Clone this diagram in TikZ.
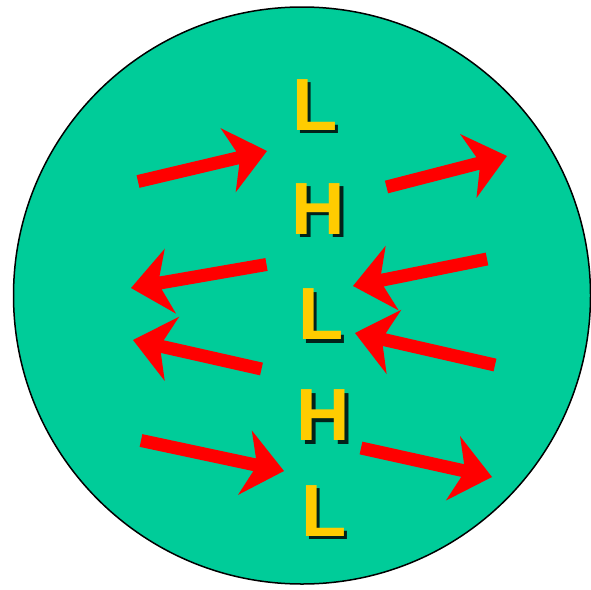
\documentclass[tikz,border=0pt]{standalone}
\usepackage{fontspec}
\setmainfont{Liberation Sans}
\usetikzlibrary{calc}
\definecolor{disc}{HTML}{00CC99}
\definecolor{letter}{HTML}{FFCC00}
\definecolor{shade}{HTML}{02221A}
\tikzset{
  arrowred/.style={fill=red, draw=none},
  letterstyle/.style={text=letter, font=\fontsize{74}{74}\selectfont\bfseries, inner sep=0pt, anchor=center}
}
\newcommand\redarrow[2]{%
  \coordinate (J) at ($(#2)!30pt!(#1)$);
  \coordinate (B) at ($(#2)!40pt!(#1)$);
  \fill[arrowred] ($(#1)!6.5pt!90:(#2)$) -- ($(J)!6.5pt!90:(#2)$) -- ($(B)!33pt!90:(#2)$) -- (#2)
    -- ($(B)!33pt!-90:(#2)$) -- ($(J)!6.5pt!-90:(#2)$) -- ($(#1)!6.5pt!-90:(#2)$) -- cycle;
}
\newcommand\shadowletter[3]{%
  \node[letterstyle] (#2) at (#1) {\makebox[0pt][l]{\hspace{3.5pt}\raisebox{-3.5pt}{\textcolor{shade}{#3}}}#3};
}
\begin{document}
\begin{tikzpicture}[x=1pt,y=-1pt]
\useasboundingbox (0,0) rectangle (591,589);
\draw[fill=disc, draw=black, line width=1.5pt] (302,295.5) circle (288.5);
% letters
\shadowletter{315,106.5}{l1}{L}
\shadowletter{318.5,210.5}{h1}{H}
\shadowletter{321,316}{l2}{L}
\shadowletter{323.5,417}{h2}{H}
\shadowletter{324,512.5}{l3}{L}
% arrows: tail, tip
\coordinate (t1) at (138,181.5); \coordinate (p1) at (267,151);
\coordinate (t2) at (386.5,187); \coordinate (p2) at (507,156);
\coordinate (t3) at (266.5,264.5); \coordinate (p3) at (131,288);
\coordinate (t4) at (261.5,369); \coordinate (p4) at (133,340);
\coordinate (t5) at (487,259); \coordinate (p5) at (353,286);
\coordinate (t6) at (495,365); \coordinate (p6) at (355,333);
\coordinate (t7) at (141,440.5); \coordinate (p7) at (284,471);
\coordinate (t8) at (361,448); \coordinate (p8) at (492,477);
\redarrow{t1}{p1}
\redarrow{t2}{p2}
\redarrow{t3}{p3}
\redarrow{t4}{p4}
\redarrow{t5}{p5}
\redarrow{t6}{p6}
\redarrow{t7}{p7}
\redarrow{t8}{p8}
\end{tikzpicture}
\end{document}
